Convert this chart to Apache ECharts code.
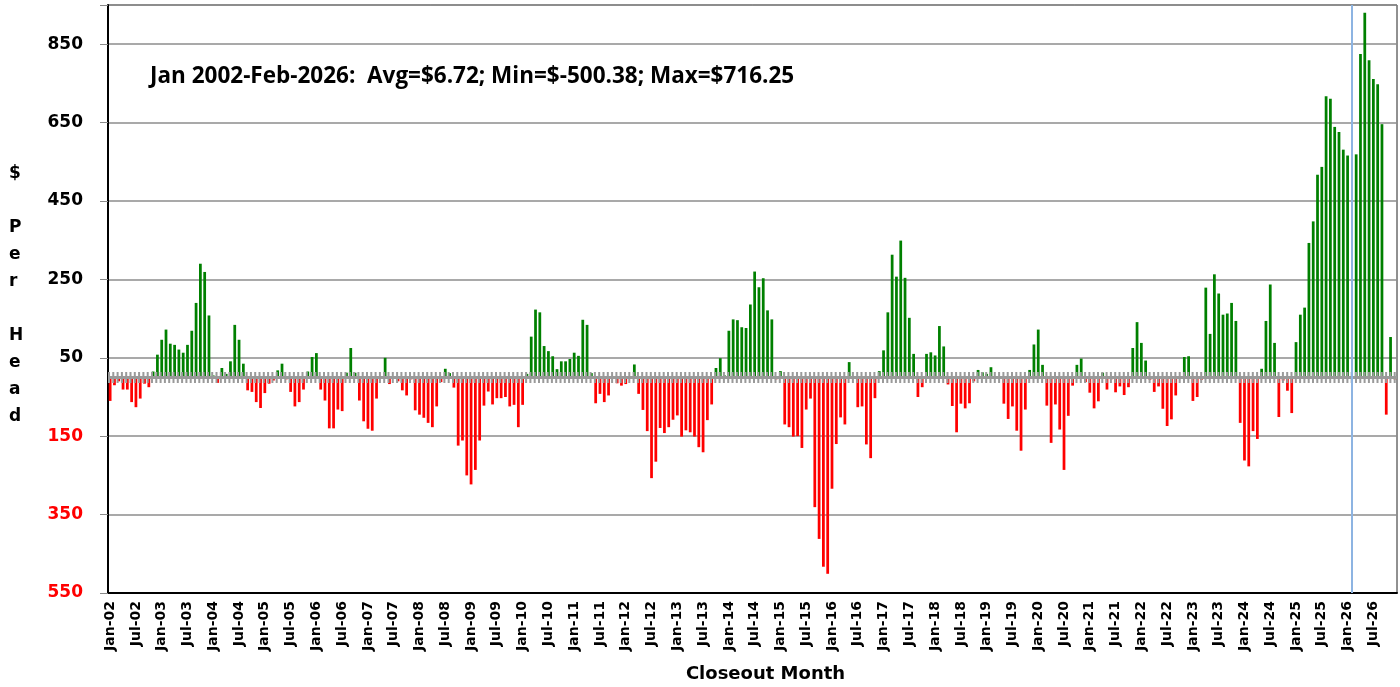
<!DOCTYPE html>
<html lang="en">
<head>
    <meta charset="UTF-8">
    <title>Closeout Month</title>
    <script src="https://cdn.jsdelivr.net/npm/echarts@6/dist/echarts.min.js"></script>
</head>
<body style="margin:0;background:#fff;">
<div id="main" style="width:1400px;height:687px;"></div>
<script type="text/javascript">
    // categories: Jan-02 ... Dec-26
    var monthNames = ['Jan', 'Feb', 'Mar', 'Apr', 'May', 'Jun', 'Jul', 'Aug', 'Sep', 'Oct', 'Nov', 'Dec'];
    var years = ['02', '03', '04', '05', '06', '07', '08', '09', '10', '11', '12', '13',
        '14', '15', '16', '17', '18', '19', '20', '21', '22', '23', '24', '25', '26'];
    var months = [];
    years.forEach(function (y) {
        monthNames.forEach(function (m) {
            months.push(m + '-' + y);
        });
    });

    // $ per head, one value per closeout month
    var returns = [
        -60, -20, -10, -31, -31, -63, -76, -54, -16, -25, 15, 58,          // 2002
        96, 122, 86, 83, 71, 63, 83, 119, 190, 290, 269, 158,              // 2003
        5, -14, 24, 9, 41, 134, 96, 35, -33, -37, -63, -78,                // 2004
        -40, -16, -8, 18, 35, -5, -37, -74, -63, -31, 15, 52,              // 2005
        62, -31, -59, -130, -130, -82, -86, 12, 75, 12, -59, -112,         // 2006
        -131, -136, -54, -3, 50, -17, -4, -10, -33, -46, -5, -84,          // 2007
        -95, -103, -116, -127, -74, -12, 22, 11, -26, -174, -161, -250,    // 2008
        -273, -236, -161, -72, -36, -69, -53, -53, -50, -74, -70, -127,    // 2009
        -70, 9, 104, 173, 166, 80, 67, 54, 21, 41, 41, 47,                 // 2010
        63, 55, 147, 134, 11, -66, -42, -63, -46, -3, -15, -21,            // 2011
        -17, -2, 33, -42, -83, -137, -257, -215, -129, -142, -127, -108,   // 2012
        -97, -151, -135, -140, -151, -178, -191, -109, -69, 24, 49, 5,     // 2013
        119, 148, 146, 128, 126, 186, 270, 230, 253, 171, 148, -5,         // 2014
        16, -120, -127, -151, -150, -180, -82, -54, -331, -412, -483, -501, // 2015
        -284, -170, -102, -120, 39, -2, -76, -74, -171, -206, -53, 16,     // 2016
        69, 166, 313, 257, 349, 254, 152, 60, -50, -25, 60, 64,            // 2017
        56, 131, 79, -18, -73, -140, -67, -79, -66, -10, 19, 13,           // 2018
        9, 26, 2, -4, -67, -106, -74, -136, -187, -82, 19, 84,             // 2019
        122, 32, -72, -167, -69, -133, -236, -98, -21, 32, 48, -12,        // 2020
        -39, -79, -61, 12, -31, -5, -38, -23, -45, -25, 75, 141,           // 2021
        88, 43, -6, -37, -23, -80, -124, -107, -46, -4, 52, 54,            // 2022
        -60, -50, -6, 229, 111, 263, 214, 160, 163, 190, 144, -116,        // 2023
        -212, -227, -137, -157, 22, 144, 237, 88, -101, -8, -34, -91,      // 2024
        90, 160, 178, 343, 398, 517, 537, 717, 711, 639, 626, 581,         // 2025
        566, null, 569, 825, 930, 809, 761, 748, 646, -95, 103, -5         // 2026
    ];

    var lastActual = 'Feb-26';
    var summary = 'Jan 2002-Feb-2026:  Avg=$6.72; Min=$-500.38; Max=$716.25';

    var myChart = echarts.init(document.getElementById('main'));

    var option = {
        animation: false,
        grid: {
            left: 108, right: 3, top: 5, bottom: 94,
            outerBoundsMode: 'none',
            show: true, borderColor: '#222', borderWidth: 1
        },
        graphic: [
            {
                type: 'text', left: 150, top: 65,
                style: {text: summary, font: 'bold 22.5px "Open Sans"', fill: '#000'}
            },
            {
                type: 'text', left: 9, top: 160,
                style: {
                    text: '$\n\nP\ne\nr\n\nH\ne\na\nd',
                    font: 'bold 17px "DejaVu Sans"', lineHeight: 27, fill: '#000', align: 'center'
                }
            }
        ],
        xAxis: {
            type: 'category',
            data: months,
            name: 'Closeout Month',
            nameLocation: 'middle',
            nameGap: 72,
            nameTextStyle: {
                fontFamily: 'DejaVu Sans', fontWeight: 'bold', fontSize: 18, color: '#000',
                padding: [0, 0, 0, 26]
            },
            axisLine: {onZero: false, lineStyle: {color: '#000', width: 2}},
            axisTick: {show: false},
            axisLabel: {
                interval: 5, rotate: 90, margin: 8,
                fontFamily: 'DejaVu Sans', fontWeight: 'bold', fontSize: 14, color: '#000'
            }
        },
        yAxis: {
            type: 'value',
            min: -550,
            max: 950,
            interval: 200,
            axisLine: {show: true, lineStyle: {color: '#000', width: 2}},
            axisTick: {show: true, length: 8, lineStyle: {color: '#888'}},
            splitLine: {lineStyle: {color: '#8c8c8c', width: 1.5}},
            axisLabel: {
                margin: 25,
                fontFamily: 'DejaVu Sans', fontWeight: 'bold', fontSize: 17,
                formatter: function (v) {
                    return v >= 950 ? '' : String(Math.abs(v));
                },
                color: function (v) {
                    return Number(v) < 0 ? '#ff0000' : '#000';
                }
            }
        },
        series: [
            {
                name: '$ Per Head',
                type: 'bar',
                data: returns,
                barCategoryGap: '36%',
                itemStyle: {
                    color: function (p) {
                        return p.value >= 0 ? '#008000' : '#ff0000';
                    }
                },
                markLine: {
                    silent: true,
                    symbol: ['none', 'none'],
                    label: {show: false},
                    data: [
                        {yAxis: 0, lineStyle: {color: '#9a9a9a', width: 3, type: 'solid'}},
                        {yAxis: 0, lineStyle: {color: '#9a9a9a', width: 11, type: [2, 2.3]}},
                        {xAxis: lastActual, lineStyle: {color: '#8db4e2', width: 2, type: 'solid'}}
                    ]
                }
            }
        ]
    };

    myChart.setOption(option);
</script>
</body>
</html>
